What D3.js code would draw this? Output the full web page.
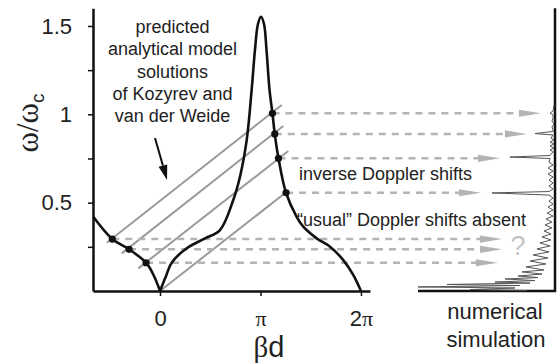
<!DOCTYPE html>
<html><head><meta charset="utf-8">
<script src="https://cdn.jsdelivr.net/npm/d3@7"></script>
<style>
html,body{margin:0;padding:0;background:#fff;}
svg{display:block;font-family:"Liberation Sans",Arial,sans-serif;}
</style>
</head><body>
<svg id="c" width="558" height="363"></svg>
<script>
// ---- data (βd in units of π, ω/ωc) ----
const dispersion = [
  [-0.664,0.420],[-0.475,0.294],[-0.308,0.236],[-0.139,0.160],[-0.06,0.085],[0,0],
  [0.06,0.085],[0.116,0.160],[0.266,0.242],[0.448,0.298],[0.597,0.345],[0.729,0.515],
  [0.796,0.647],[0.863,0.855],[0.912,1.138],[0.945,1.364],[0.975,1.511],[1.005,1.552],
  [1.035,1.511],[1.060,1.364],[1.090,1.138],[1.119,1.006],[1.142,0.889],[1.179,0.751],
  [1.254,0.556],[1.360,0.420],[1.426,0.364],[1.559,0.298],[1.692,0.251],[1.824,0.175],
  [1.923,0.091],[2.0,0]
];
const solutionDots = [
  [-0.475,0.294],[-0.308,0.236],[-0.139,0.160],
  [1.119,1.006],[1.142,0.889],[1.179,0.751],[1.254,0.556]
];
// Doppler lines: [βd start, ω start, βd end, ω end]
const dopplerLines = [
  [-0.530,0.273,1.211,1.053],
  [-0.381,0.213,1.227,0.934],
  [-0.216,0.128,1.277,0.792],
  [0,0,1.284,0.572]
];
const arrowLevels   = [1.006,0.889,0.751,0.556,0.294,0.236,0.160];
const arrowFromBeta = [1.119,1.142,1.179,1.254,-0.475,-0.308,-0.139];
const arrowTipAmp   = [9.6,19.9,39.7,53.7,38.2,38.2,41.2];
// numerical simulation spectrum: [ω/ωc, relative amplitude %]
const spectrum = [
  [1.053,0],[1.019,0.7],[1.007,2.9],[0.996,0.7],[0.979,0.7],[0.962,1.5],[0.945,0],[0.928,1.5],
  [0.911,0.7],[0.903,0.7],[0.891,14],[0.883,0.7],[0.866,2.2],[0.855,0],[0.843,2.9],[0.832,0],
  [0.821,2.9],[0.809,0],[0.798,2.9],[0.787,0.7],[0.775,2.2],[0.767,2.9],[0.758,32.4],[0.750,2.9],
  [0.730,3.7],[0.713,0.7],[0.696,4.4],[0.679,0.7],[0.662,4.4],[0.645,0.7],[0.628,3.7],[0.611,0.7],
  [0.594,3.7],[0.577,0.7],[0.563,3.7],[0.555,45.6],[0.543,3.7],[0.526,0.7],[0.509,3.7],[0.492,0.7],
  [0.475,4.4],[0.458,0.7],[0.441,5.1],[0.424,0.7],[0.407,5.9],[0.390,1.5],[0.374,6.6],[0.357,1.5],
  [0.340,7.4],[0.323,2.2],[0.306,8.8],[0.289,2.2],[0.272,10.3],[0.255,2.9],[0.238,12.5],[0.221,3.7],
  [0.204,15.4],[0.187,4.4],[0.170,17.6],[0.153,5.9],[0.136,20.6],[0.119,7.4],[0.108,23.5],[0.096,8.8],
  [0.085,26.5],[0.076,11.8],[0.068,36],[0.059,14],[0.051,43.4],[0.045,17.6],[0.037,78.7],[0.031,25],
  [0.023,100],[0.017,28.7],[0.008,61.8],[0.003,20]
];
const yTicks = [0.25,0.5,0.75,1,1.25,1.5];
const yTickLabels = {0.5:"0.5",1:"1",1.5:"1.5"};
const xTicks = [0,1,2];
const xTickLabels = [["0",""],["","π"],["2","π"]];
const annotationLines = ["predicted","analytical model","solutions","of Kozyrev and","van der Weide"];

// ---- scales ----
const svg = d3.select("#c");
const x = d3.scaleLinear().domain([-0.667,2.09]).range([93,370]);
const y = d3.scaleLinear().domain([0,1.6]).range([291,8.3]);
const xs = d3.scaleLinear().domain([0,100]).range([554,418]);

svg.append("rect").attr("width",558).attr("height",363).attr("fill","#fff");

// Doppler lines
svg.append("g").selectAll("line").data(dopplerLines).join("line")
  .attr("x1",d=>x(d[0])).attr("y1",d=>y(d[1]))
  .attr("x2",d=>x(d[2])).attr("y2",d=>y(d[3]))
  .attr("stroke","#9a9a9a").attr("stroke-width",2);

// dashed arrows
const ga = svg.append("g");
arrowLevels.forEach((w,i)=>{
  const yy = y(w), x0 = x(arrowFromBeta[i]), tip = xs(arrowTipAmp[i]);
  const L = 22, hw = 3.6;
  ga.append("line").attr("x1",x0).attr("y1",yy).attr("x2",tip-L+2).attr("y2",yy)
    .attr("stroke","#b4b4b4").attr("stroke-width",2.5).attr("stroke-dasharray","7,6");
  ga.append("path").attr("d",`M${tip},${yy}L${tip-L},${yy-hw}L${tip-L},${yy+hw}Z`)
    .attr("fill","#b4b4b4");
});

// dispersion curve (two branches meeting in a cusp at βd = 0)
const line = d3.line().x(d=>x(d[0])).y(d=>y(d[1])).curve(d3.curveCatmullRom.alpha(0.5));
svg.append("path").attr("d",line(dispersion.filter(d=>d[0]<=0)))
  .attr("fill","none").attr("stroke","#111").attr("stroke-width",2.6);
svg.append("path").attr("d",line(dispersion.filter(d=>d[0]>=0)))
  .attr("fill","none").attr("stroke","#111").attr("stroke-width",2.6);

svg.append("g").selectAll("circle").data(solutionDots).join("circle")
  .attr("cx",d=>x(d[0])).attr("cy",d=>y(d[1])).attr("r",3.6).attr("fill","#111");

// axes
const gy = svg.append("g").attr("transform","translate(93,0)")
  .call(d3.axisLeft(y).tickValues(yTicks).tickSize(5).tickSizeOuter(0).tickPadding(16)
    .tickFormat(d=>yTickLabels[d]||""));
gy.select(".domain").attr("stroke","#111").attr("stroke-width",2.5);
gy.selectAll(".tick line").attr("stroke","#111").attr("stroke-width",1.5);
gy.selectAll(".tick text").attr("font-size",22).attr("fill","#222")
  .attr("font-family","Liberation Sans, Arial, sans-serif");

const gx = svg.append("g").attr("transform","translate(0,291)")
  .call(d3.axisBottom(x).tickValues(xTicks).tickSize(5).tickSizeOuter(0).tickPadding(14).tickFormat(""));
gx.select(".domain").attr("stroke","#111").attr("stroke-width",2.5);
gx.selectAll(".tick line").attr("stroke","#111").attr("stroke-width",1.5);
gx.selectAll(".tick text").each(function(d,i){
  const t = d3.select(this).attr("font-size",22).attr("fill","#222")
    .attr("font-family","Liberation Sans, Arial, sans-serif");
  const lab = xTickLabels[i];
  if(lab[0]) t.append("tspan").text(lab[0]);
  if(lab[1]) t.append("tspan").attr("font-family","Liberation Serif, serif").text(lab[1]);
});

// axis titles
const bt = svg.append("text").attr("x",269).attr("y",357).attr("text-anchor","middle")
  .attr("font-size",29).attr("fill","#222");
bt.append("tspan").attr("font-family","Liberation Serif, serif").text("β");
bt.append("tspan").text("d");

const yt = svg.append("text").attr("transform","translate(38,123) rotate(-90)")
  .attr("text-anchor","middle").attr("fill","#222");
yt.append("tspan").attr("font-family","Liberation Serif, serif").attr("font-size",31).text("ω/ω");
yt.append("tspan").attr("font-size",19).attr("dy",6).text("c");

// spectrum panel
svg.append("line").attr("x1",555).attr("x2",555).attr("y1",y(1.6)).attr("y2",292)
  .attr("stroke","#111").attr("stroke-width",2.5);
svg.append("line").attr("x1",418).attr("x2",556).attr("y1",291).attr("y2",291)
  .attr("stroke","#111").attr("stroke-width",2.5);
svg.append("path").attr("d",d3.line().x(d=>xs(d[1])).y(d=>y(d[0]))(spectrum))
  .attr("fill","none").attr("stroke","#555").attr("stroke-width",1);

// annotations
const ann = svg.append("text").attr("text-anchor","middle").attr("font-size",18).attr("fill","#222");
annotationLines.forEach((s,i)=>{
  ann.append("tspan").attr("x",172.5).attr("y",33+i*22.3).text(s);
});
// black pointer arrow
{
  const x1 = x(-0.05), y1 = y(0.866), x2 = x(0.07), y2 = y(0.628);
  const dx = x2-x1, dy = y2-y1, len = Math.hypot(dx,dy), ux = dx/len, uy = dy/len;
  const L = 15, hw = 4.5;
  const bx = x2-ux*L, by = y2-uy*L;
  svg.append("line").attr("x1",x1).attr("y1",y1).attr("x2",bx).attr("y2",by)
    .attr("stroke","#111").attr("stroke-width",2);
  svg.append("path").attr("d",`M${x2},${y2}L${bx-uy*hw},${by+ux*hw}L${bx+uy*hw},${by-ux*hw}Z`)
    .attr("fill","#111");
}
svg.append("text").attr("x",299).attr("y",180).attr("font-size",18).attr("fill","#222")
  .text("inverse Doppler shifts");
svg.append("text").attr("x",297).attr("y",226).attr("font-size",18).attr("fill","#222")
  .text("\u201Cusual\u201D Doppler shifts absent");
svg.append("text").attr("x",518).attr("y",255).attr("text-anchor","middle").attr("font-size",27)
  .attr("fill","#c4c4c4").text("?");
svg.append("text").attr("x",495).attr("y",319).attr("text-anchor","middle").attr("font-size",22)
  .attr("fill","#222").text("numerical");
svg.append("text").attr("x",496).attr("y",347).attr("text-anchor","middle").attr("font-size",22)
  .attr("fill","#222").text("simulation");
</script>
</body></html>
